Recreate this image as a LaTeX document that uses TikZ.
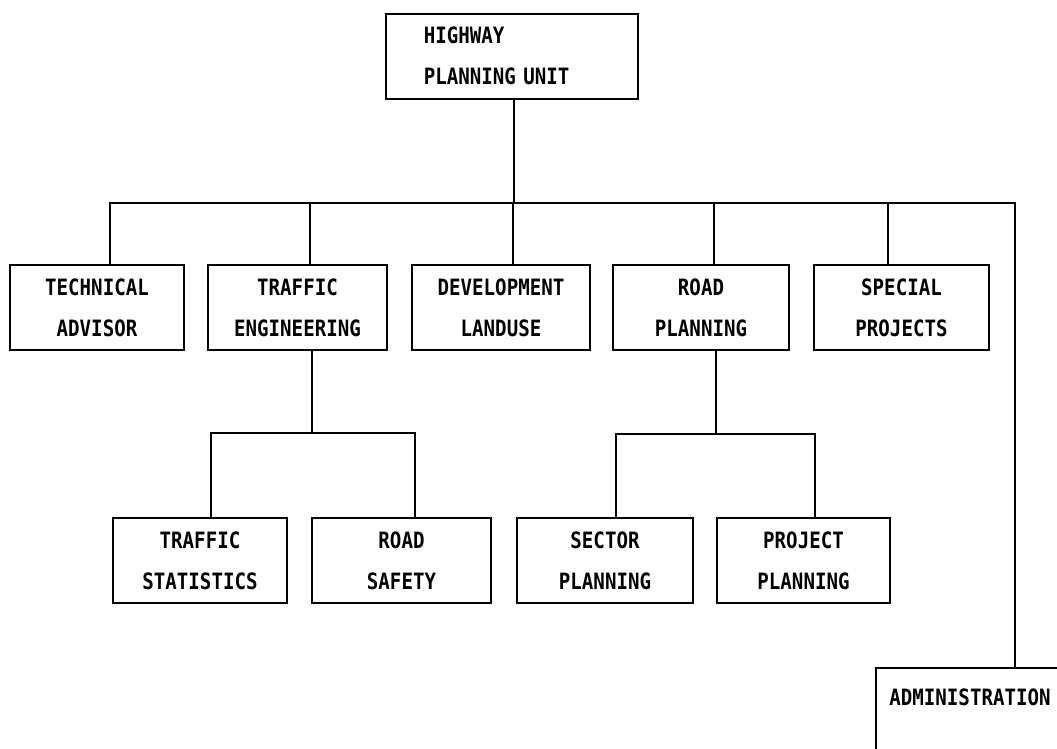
\documentclass[tikz,border=0pt]{standalone}
\usepackage{fontspec}
\newfontfamily\chartfont[FakeStretch=0.85]{DejaVu Sans Mono}
\begin{document}
\begin{tikzpicture}[x=1pt,y=-1pt,
  line width=1.6pt,
  chart/.style={font=\chartfont\bfseries\fontsize{22.5pt}{41pt}\selectfont},
  unit/.style={draw, rectangle, inner sep=0pt, minimum height=85pt, align=center, chart},
  link/.style={draw, line width=1.6pt, line join=miter}]
\clip (0,0) rectangle (1057,748);
\fill[white] (0,0) rectangle (1057,748);

% top
\node[draw, rectangle, anchor=north west, inner xsep=38pt, inner ysep=0pt,
  minimum height=85pt, text width=176pt, align=left, chart] (top) at (385,13) {HIGHWAY\\PLANNING UNIT};

% level 1
\node[unit, minimum width=174pt] (tech) at (97,307.5) {TECHNICAL\\ADVISOR};
\node[unit, minimum width=179pt] (te) at (297.5,307.5) {TRAFFIC\\ENGINEERING};
\node[unit, minimum width=178pt] (dev) at (501,307.5) {DEVELOPMENT\\LANDUSE};
\node[unit, minimum width=176pt] (road) at (701,307.5) {ROAD\\PLANNING};
\node[unit, minimum width=175pt] (spec) at (901.5,307.5) {SPECIAL\\PROJECTS};

% level 2
\node[unit, minimum width=174pt] (ts) at (200,560.5) {TRAFFIC\\STATISTICS};
\node[unit, minimum width=179pt] (rs) at (401.5,560.5) {ROAD\\SAFETY};
\node[unit, minimum width=176pt] (sp) at (605,560.5) {SECTOR\\PLANNING};
\node[unit, minimum width=173pt] (pp) at (803.5,560.5) {PROJECT\\PLANNING};

% administration (box runs off the page)
\node[draw, rectangle, anchor=north west, inner sep=0pt,
  minimum width=220pt, minimum height=140pt] (adm) at (875,667) {};
\node[chart, inner sep=0pt] (admt) at (970,697) {ADMINISTRATION};

% bus coordinates
\coordinate (busR) at (1015,203);
\coordinate (b2L) at (211,433);
\coordinate (b2R) at (415,433);
\coordinate (b3L) at (616,434);
\coordinate (b3R) at (815,434);

% level 0 -> level 1
\path[link] ([xshift=2pt]top.south) -- ([xshift=2pt]top.south |- busR);
\path[link] ([xshift=13pt]tech.north) |- (busR) -- (busR |- adm.north);
\path[link] ([xshift=12.5pt]te.north) -- ([xshift=12.5pt]te.north |- busR);
\path[link] ([xshift=12pt]dev.north) -- ([xshift=12pt]dev.north |- busR);
\path[link] ([xshift=13pt]road.north) -- ([xshift=13pt]road.north |- busR);
\path[link] ([xshift=-13.5pt]spec.north) -- ([xshift=-13.5pt]spec.north |- busR);

% traffic engineering -> level 2
\path[link] ([xshift=14.5pt]te.south) -- ([xshift=14.5pt]te.south |- b2L);
\path[link] (b2L |- ts.north) -- (b2L) -- (b2R) -- (b2R |- rs.north);

% road planning -> level 2
\path[link] ([xshift=15pt]road.south) -- ([xshift=15pt]road.south |- b3L);
\path[link] (b3L |- sp.north) -- (b3L) -- (b3R) -- (b3R |- pp.north);
\end{tikzpicture}
\end{document}
